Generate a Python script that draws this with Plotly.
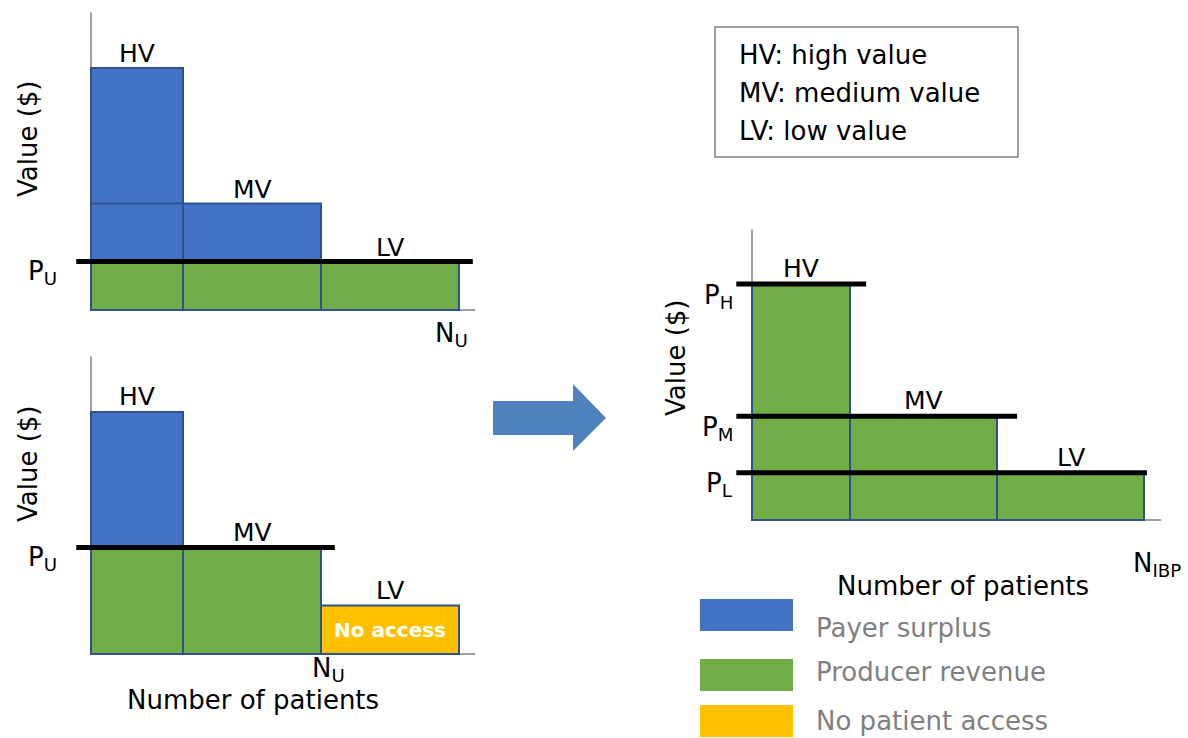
import plotly.graph_objects as go

W, H = 1188, 738
FONT = "DejaVu Sans"

# ---------------- data ----------------
groups = ["HV", "MV", "LV"]
group_names = ["high value", "medium value", "low value"]
patients = [2, 3, 3]            # relative number of patients per value group
values = [10.0, 4.4, 2.0]       # value ($) per patient in each group
price_top = values[2]           # uniform price, top-left panel (P_U = LV value)
price_bottom = values[1]        # uniform price, bottom-left panel (P_U = MV value)
prices_ibp = values             # indication-based prices (P_H, P_M, P_L)
price_labels_ibp = ["P<sub>H</sub>", "P<sub>M</sub>", "P<sub>L</sub>"]
legend_labels = ["Payer surplus", "Producer revenue", "No patient access"]

# ---------------- style ----------------
BLUE = "#4472C4"
GREEN = "#70AD47"
ORANGE = "#FFC000"
OUTLINE = "#2F528F"
ARROW = "#4F81BD"
AXIS = "#404040"

edges = [0]
for n in patients:
    edges.append(edges[-1] + n)
centers = [(edges[i] + edges[i + 1]) / 2 for i in range(len(patients))]

def px(x):
    return x / W

def py(y):
    return 1 - y / H

# pixel layout of each panel: origin pixel, pixels per unit, box
panels = {
    "": dict(x0=91, sx=46, y0=310, sy=24.2, box=(20, 0, 490, 320)),
    "2": dict(x0=91, sx=46, y0=654, sy=24.2, box=(20, 345, 490, 665)),
    "3": dict(x0=752, sx=49, y0=520, sy=23.6, box=(700, 222, 1180, 530)),
}

fig = go.Figure()
layout_axes = {}
for sfx, p in panels.items():
    bx0, by0, bx1, by1 = p["box"]
    layout_axes["xaxis" + sfx] = dict(
        domain=[px(bx0), px(bx1)],
        range=[(bx0 - p["x0"]) / p["sx"], (bx1 - p["x0"]) / p["sx"]],
        visible=False, fixedrange=True, anchor="y" + sfx)
    layout_axes["yaxis" + sfx] = dict(
        domain=[py(by1), py(by0)],
        range=[(p["y0"] - by1) / p["sy"], (p["y0"] - by0) / p["sy"]],
        visible=False, fixedrange=True, anchor="x" + sfx)


def add_bars(sfx, idx, bases, tops, color):
    fig.add_trace(go.Bar(
        x=[centers[i] for i in idx],
        width=[patients[i] for i in idx],
        base=bases,
        y=[t - b for t, b in zip(tops, bases)],
        marker=dict(color=color, line=dict(color=OUTLINE, width=2)),
        xaxis="x" + sfx, yaxis="y" + sfx,
        hoverinfo="skip", showlegend=False))


shapes = []
annotations = []


def axis_lines(sfx):
    shapes.append(dict(type="line", xref="x" + sfx, yref="y" + sfx,
                       x0=0, x1=0, y0=0, y1=12.3,
                       line=dict(color=AXIS, width=1), layer="below"))
    shapes.append(dict(type="line", xref="x" + sfx, yref="y" + sfx,
                       x0=0, x1=edges[-1] + 0.35, y0=0, y1=0,
                       line=dict(color=AXIS, width=1), layer="below"))


def price_line(sfx, y, x_end, x_start=-0.32):
    shapes.append(dict(type="line", xref="x" + sfx, yref="y" + sfx,
                       x0=x_start, x1=x_end, y0=y, y1=y,
                       line=dict(color="black", width=5), layer="above"))


def label(sfx, x, y, text, size=25, **kw):
    d = dict(xref="x" + sfx, yref="y" + sfx, x=x, y=y, text=text,
             showarrow=False, font=dict(family=FONT, size=size, color="black"))
    d.update(kw)
    annotations.append(d)


# ---------- panel 1: uniform price at LV value ----------
axis_lines("")
all_idx = list(range(len(groups)))
add_bars("", all_idx, [0] * 3, [price_top] * 3, GREEN)
surplus_idx = [i for i in all_idx if values[i] > price_top]
add_bars("", surplus_idx, [price_top] * len(surplus_idx),
         [values[i] for i in surplus_idx], BLUE)
# value tier split inside the HV column (MV level)
add_bars("", [0], [price_top], [values[1]], BLUE)
price_line("", price_top, edges[-1] + 0.3)
for i in all_idx:
    label("", centers[i], values[i], groups[i], yanchor="bottom", yshift=-2)
label("", -0.32, price_top, "P<sub>U</sub>", size=26,
      xanchor="right", xshift=-17, yanchor="middle", yshift=-11)
label("", edges[-1], 0, "N<sub>U</sub>", size=26,
      xanchor="center", xshift=-8, yanchor="top", yshift=-6)

# ---------- panel 2: uniform price at MV value ----------
axis_lines("2")
access_idx = [i for i in all_idx if values[i] >= price_bottom]
noacc_idx = [i for i in all_idx if values[i] < price_bottom]
add_bars("2", access_idx, [0] * len(access_idx), [price_bottom] * len(access_idx), GREEN)
surplus2 = [i for i in all_idx if values[i] > price_bottom]
add_bars("2", surplus2, [price_bottom] * len(surplus2),
         [values[i] for i in surplus2], BLUE)
add_bars("2", noacc_idx, [0] * len(noacc_idx), [values[i] for i in noacc_idx], ORANGE)
price_line("2", price_bottom, edges[access_idx[-1] + 1] + 0.3)
for i in all_idx:
    label("2", centers[i], values[i], groups[i], yanchor="bottom", yshift=-1)
for i in noacc_idx:
    label("2", centers[i], values[i] / 2, "<b>No access</b>", size=20,
          font=dict(family=FONT, size=20, color="white"))
label("2", -0.32, price_bottom, "P<sub>U</sub>", size=26,
      xanchor="right", xshift=-17, yanchor="middle", yshift=-11)
label("2", edges[access_idx[-1] + 1], 0, "N<sub>U</sub>", size=26,
      xanchor="center", xshift=7, yanchor="top", yshift=3)

# ---------- panel 3: indication-based pricing ----------
axis_lines("3")
add_bars("3", all_idx, [0] * 3, values, GREEN)
line_overhang = [0.33, 0.41, 0.06]
for i in all_idx:
    price_line("3", prices_ibp[i], edges[i + 1] + line_overhang[i])
    label("3", centers[i], values[i], groups[i], yanchor="bottom", yshift=-1)
    label("3", -0.32, prices_ibp[i], price_labels_ibp[i], size=26,
          xanchor="right", xshift=-1, yanchor="middle", yshift=-12)
label("3", edges[-1], 0, "N<sub>IBP</sub>", size=26,
      xanchor="center", xshift=13, yanchor="top", yshift=-26)

# ---------- axis titles ----------
for (cx, cy) in [(28, 139), (28, 464), (676, 358)]:
    annotations.append(dict(xref="paper", yref="paper", x=px(cx), y=py(cy),
                            text="Value ($)", textangle=-90, showarrow=False,
                            xanchor="center", yanchor="middle",
                            font=dict(family=FONT, size=26, color="black")))
for (cx, cy) in [(253, 700), (963, 586)]:
    annotations.append(dict(xref="paper", yref="paper", x=px(cx), y=py(cy),
                            text="Number of patients", showarrow=False,
                            xanchor="center", yanchor="middle",
                            font=dict(family=FONT, size=26, color="black")))

# ---------- arrow ----------
arrow_pts = [(493, 401), (573, 401), (573, 384), (606, 418),
             (573, 451), (573, 435), (493, 435)]
path = "M " + " L ".join(f"{px(x):.5f},{py(y):.5f}" for x, y in arrow_pts) + " Z"
shapes.append(dict(type="path", xref="paper", yref="paper", path=path,
                   fillcolor=ARROW, line=dict(width=0)))

# ---------- key box ----------
shapes.append(dict(type="rect", xref="paper", yref="paper",
                   x0=px(715), x1=px(1018), y0=py(157), y1=py(27),
                   line=dict(color="#808080", width=1.5), fillcolor="white"))
for i, cy in enumerate([55, 93, 131]):
    annotations.append(dict(xref="paper", yref="paper", x=px(737), y=py(cy),
                            text=f"{groups[i]}: {group_names[i]}", showarrow=False,
                            xanchor="left", yanchor="middle",
                            font=dict(family=FONT, size=26, color="black")))

# ---------- colour legend ----------
legend_colors = [BLUE, GREEN, ORANGE]
swatch_y = [(599, 631), (659, 691), (705, 737)]
text_y = [628, 672, 721]
for i in range(3):
    shapes.append(dict(type="rect", xref="paper", yref="paper",
                       x0=px(700), x1=px(793), y0=py(swatch_y[i][1]), y1=py(swatch_y[i][0]),
                       fillcolor=legend_colors[i], line=dict(width=0)))
    annotations.append(dict(xref="paper", yref="paper", x=px(814), y=py(text_y[i]),
                            text=legend_labels[i], showarrow=False,
                            xanchor="left", yanchor="middle",
                            font=dict(family=FONT, size=26, color="#808080")))

fig.update_layout(
    width=W, height=H,
    margin=dict(l=0, r=0, t=0, b=0),
    paper_bgcolor="white", plot_bgcolor="rgba(0,0,0,0)",
    barmode="overlay", showlegend=False,
    shapes=shapes, annotations=annotations,
    font=dict(family=FONT),
    **layout_axes,
)

fig.write_html(
    "out.html",
    config={"displayModeBar": False},
    post_script="document.body.style.margin='0px';document.body.style.overflow='hidden';",
)
